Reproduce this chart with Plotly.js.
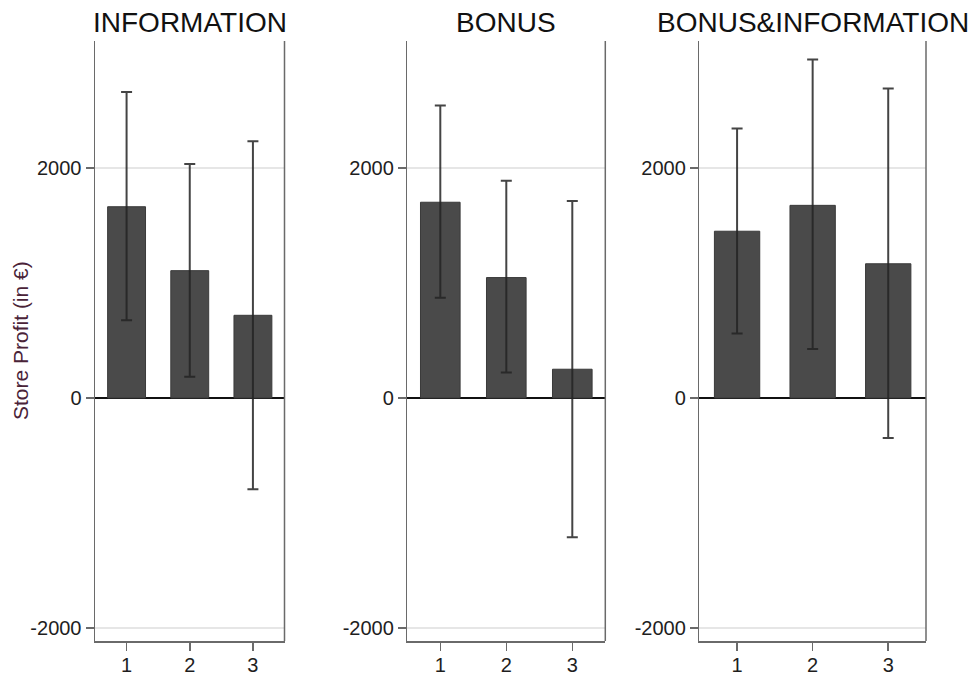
<!DOCTYPE html>
<html>
<head>
<meta charset="utf-8">
<script src="https://cdn.plot.ly/plotly-3.0.1.min.js"></script>
<style>
  html, body { margin: 0; padding: 0; background: #fff; }
  #chart { width: 976px; height: 675px; }
</style>
</head>
<body>
<div id="chart"></div>
<script>
// Store profit by group (1, 2, 3) in each treatment, with confidence intervals
const treatments = ['INFORMATION', 'BONUS', 'BONUS&INFORMATION'];
const groups = [1, 2, 3];

const informationMean  = [1663, 1107, 719];
const informationUpper = [2661, 2035, 2232];
const informationLower = [676, 185, -794];

const bonusMean  = [1702, 1047, 250];
const bonusUpper = [2543, 1888, 1712];
const bonusLower = [871, 221, -1211];

const bothMean  = [1450, 1675, 1167];
const bothUpper = [2344, 2943, 2692];
const bothLower = [561, 426, -348];

const yTickVals = [-2000, 0, 2000];
const yTickText = ['-2000', '0', '2000'];
const yAxisTitle = 'Store Profit (in €)';

const series = [
  [informationMean, informationUpper, informationLower],
  [bonusMean, bonusUpper, bonusLower],
  [bothMean, bothUpper, bothLower]
];

const W = 976, H = 675;
// panel plot areas in pixels: [left, right]
const panelX = [[95, 284.5], [407.3, 605.3], [699.3, 926]];
const plotTop = 41, plotBottom = 641;

const FONT = 'Liberation Sans, Arial, Helvetica, sans-serif';
const axisGray = '#6a6a6a';

const traces = series.map(([mean, upper, lower], i) => ({
  type: 'bar',
  x: groups,
  y: mean,
  width: 0.6,
  xaxis: i === 0 ? 'x' : 'x' + (i + 1),
  yaxis: i === 0 ? 'y' : 'y' + (i + 1),
  marker: { color: '#4a4a4a', line: { color: '#3a3a3a', width: 1 } },
  error_y: {
    type: 'data',
    symmetric: false,
    array: upper.map((u, k) => u - mean[k]),
    arrayminus: mean.map((m, k) => m - lower[k]),
    color: 'rgba(35,35,35,0.85)',
    thickness: 2,
    width: 5.5
  },
  hoverinfo: 'x+y',
  showlegend: false
}));

const layout = {
  width: W,
  height: H,
  margin: { l: 0, r: 0, t: 0, b: 0 },
  paper_bgcolor: '#fff',
  plot_bgcolor: '#fff',
  font: { family: FONT, color: '#1e1e1e', size: 20 },
  bargap: 0.4,
  showlegend: false,
  shapes: [],
  annotations: []
};

panelX.forEach(([l, r], i) => {
  const sfx = i === 0 ? '' : String(i + 1);
  layout['xaxis' + sfx] = {
    domain: [l / W, r / W],
    anchor: 'y' + sfx,
    range: [0.5, 3.5],
    tickvals: groups,
    ticktext: groups.map(String),
    ticks: 'outside',
    ticklen: 8,
    tickwidth: 1.5,
    tickcolor: axisGray,
    ticklabelstandoff: -3,
    showline: true,
    linecolor: axisGray,
    linewidth: 1.5,
    showgrid: false,
    zeroline: false,
    tickfont: { size: 20, color: '#1e1e1e' },
    fixedrange: true
  };
  layout['yaxis' + sfx] = {
    domain: [(H - plotBottom) / H, (H - plotTop) / H],
    anchor: 'x' + sfx,
    range: [-2113, 3104],
    tickvals: yTickVals,
    ticktext: yTickText,
    ticks: 'outside',
    ticklen: 8,
    tickwidth: 1.5,
    tickcolor: axisGray,
    showline: true,
    linecolor: axisGray,
    linewidth: 1.5,
    showgrid: true,
    gridcolor: '#e6e6e6',
    gridwidth: 1.5,
    zeroline: true,
    zerolinecolor: '#111',
    zerolinewidth: 1.5,
    tickfont: { size: 20, color: '#1e1e1e' },
    fixedrange: true
  };
  // right border of each panel
  layout.shapes.push({
    type: 'line',
    xref: 'x' + sfx + ' domain', yref: 'y' + sfx + ' domain',
    x0: 1, x1: 1, y0: 0, y1: 1,
    line: { color: axisGray, width: 1.5 }
  });
  // panel title
  layout.annotations.push({
    text: treatments[i],
    xref: 'paper', yref: 'paper',
    x: ((l + r) / 2) / W, y: (H - 22) / H,
    xanchor: 'center', yanchor: 'middle',
    showarrow: false,
    font: { family: FONT, size: 28, color: '#111' }
  });
});

// shared y-axis title on the left
layout.annotations.push({
  text: yAxisTitle,
  xref: 'paper', yref: 'paper',
  x: 20 / W, y: (H - 341) / H,
  xanchor: 'center', yanchor: 'middle',
  textangle: -90,
  showarrow: false,
  font: { family: FONT, size: 21, color: '#4a2338' }
});

Plotly.newPlot('chart', traces, layout, { displayModeBar: false, staticPlot: true });
</script>
</body>
</html>
